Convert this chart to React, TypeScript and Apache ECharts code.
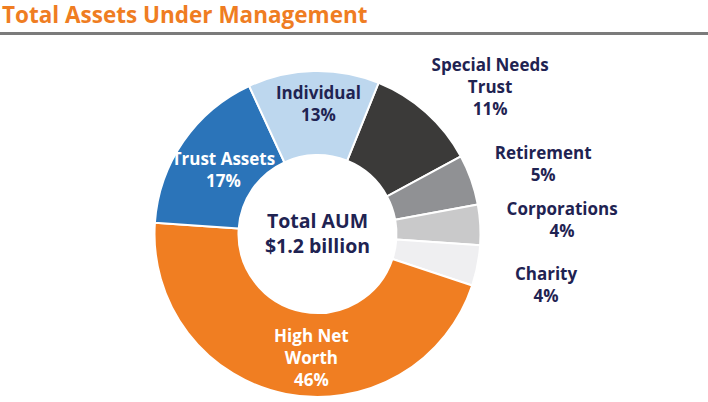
import React, { useEffect, useRef } from "react";
import * as echarts from "echarts";

const categories = [
  "Special Needs\nTrust",
  "Retirement",
  "Corporations",
  "Charity",
  "High Net\nWorth",
  "Trust Assets",
  "Individual",
];
const shares = [11, 5, 4, 4, 46, 17, 13];
const sliceColors = ["#3b3a39", "#909194", "#c9c9ca", "#efeff1", "#f07e22", "#2b74b9", "#bdd7ee"];
const insideLabel = [false, false, false, false, true, true, true];
const insideLabelColors = ["", "", "", "", "#ffffff", "#ffffff", "#1f2352"];
const labelOffsets: number[][] = [[16, 28], [4, 8], [10, -1], [-2, 5], [18, 2], [8, 6], [4, -7]];
const titleText = "Total Assets Under Management";
const centerLines = ["Total AUM", "$1.2 billion"];

const NAVY = "#1f2352";
const FONT = "'Open Sans', sans-serif";

export default function App() {
  const ref = useRef<HTMLDivElement>(null);
  useEffect(() => {
    document.body.style.margin = "0";
    const chart = echarts.init(ref.current!, null, { renderer: "svg" });
    const cx = 317.5;
    const cy = 234;
    const labelBase = {
      fontFamily: FONT,
      fontWeight: "bold" as const,
      fontSize: 17,
      lineHeight: 22,
      align: "center" as const,
    };
    const mainData = categories.map((name, i) => ({
      name,
      value: shares[i],
      itemStyle: { color: sliceColors[i] },
      label: insideLabel[i]
        ? { show: true, color: insideLabelColors[i], offset: labelOffsets[i] }
        : { show: false },
    }));
    const outerData = categories.map((name, i) => ({
      name,
      value: shares[i],
      itemStyle: { color: "rgba(0,0,0,0)" },
      label: !insideLabel[i]
        ? { show: true, color: NAVY, offset: labelOffsets[i] }
        : { show: false },
    }));
    chart.setOption({
      animation: false,
      graphic: [
        {
          type: "text",
          x: 2,
          y: 14,
          style: {
            text: titleText,
            fill: "#ef7d22",
            font: `bold 22.5px ${FONT}`,
            verticalAlign: "middle",
          },
        },
        {
          type: "rect",
          shape: { x: 0, y: 32, width: 708, height: 3 },
          style: { fill: "#7b7b7b" },
        },
        ...centerLines.map((t, i) => ({
          type: "text",
          x: cx,
          y: cy - 14 + i * 25,
          style: {
            text: t,
            fill: NAVY,
            font: `bold 19.5px ${FONT}`,
            align: "center",
            verticalAlign: "middle",
          },
        })),
      ],
      series: [
        {
          type: "pie",
          center: [cx, cy],
          radius: [79, 163],
          startAngle: 68,
          clockwise: true,
          silent: true,
          itemStyle: { borderColor: "#ffffff", borderWidth: 2 },
          label: { ...labelBase, position: "inside", formatter: "{b}\n{c}%" },
          labelLine: { show: false },
          data: mainData,
        },
        {
          type: "pie",
          center: [cx, cy],
          radius: [220, 244],
          startAngle: 68,
          clockwise: true,
          silent: true,
          itemStyle: { borderWidth: 0 },
          label: { ...labelBase, position: "inside", formatter: "{b}\n{c}%" },
          labelLine: { show: false },
          data: outerData,
        },
      ],
    });
    return () => chart.dispose();
  }, []);
  return <div ref={ref} style={{ width: 708, height: 402 }} />;
}
